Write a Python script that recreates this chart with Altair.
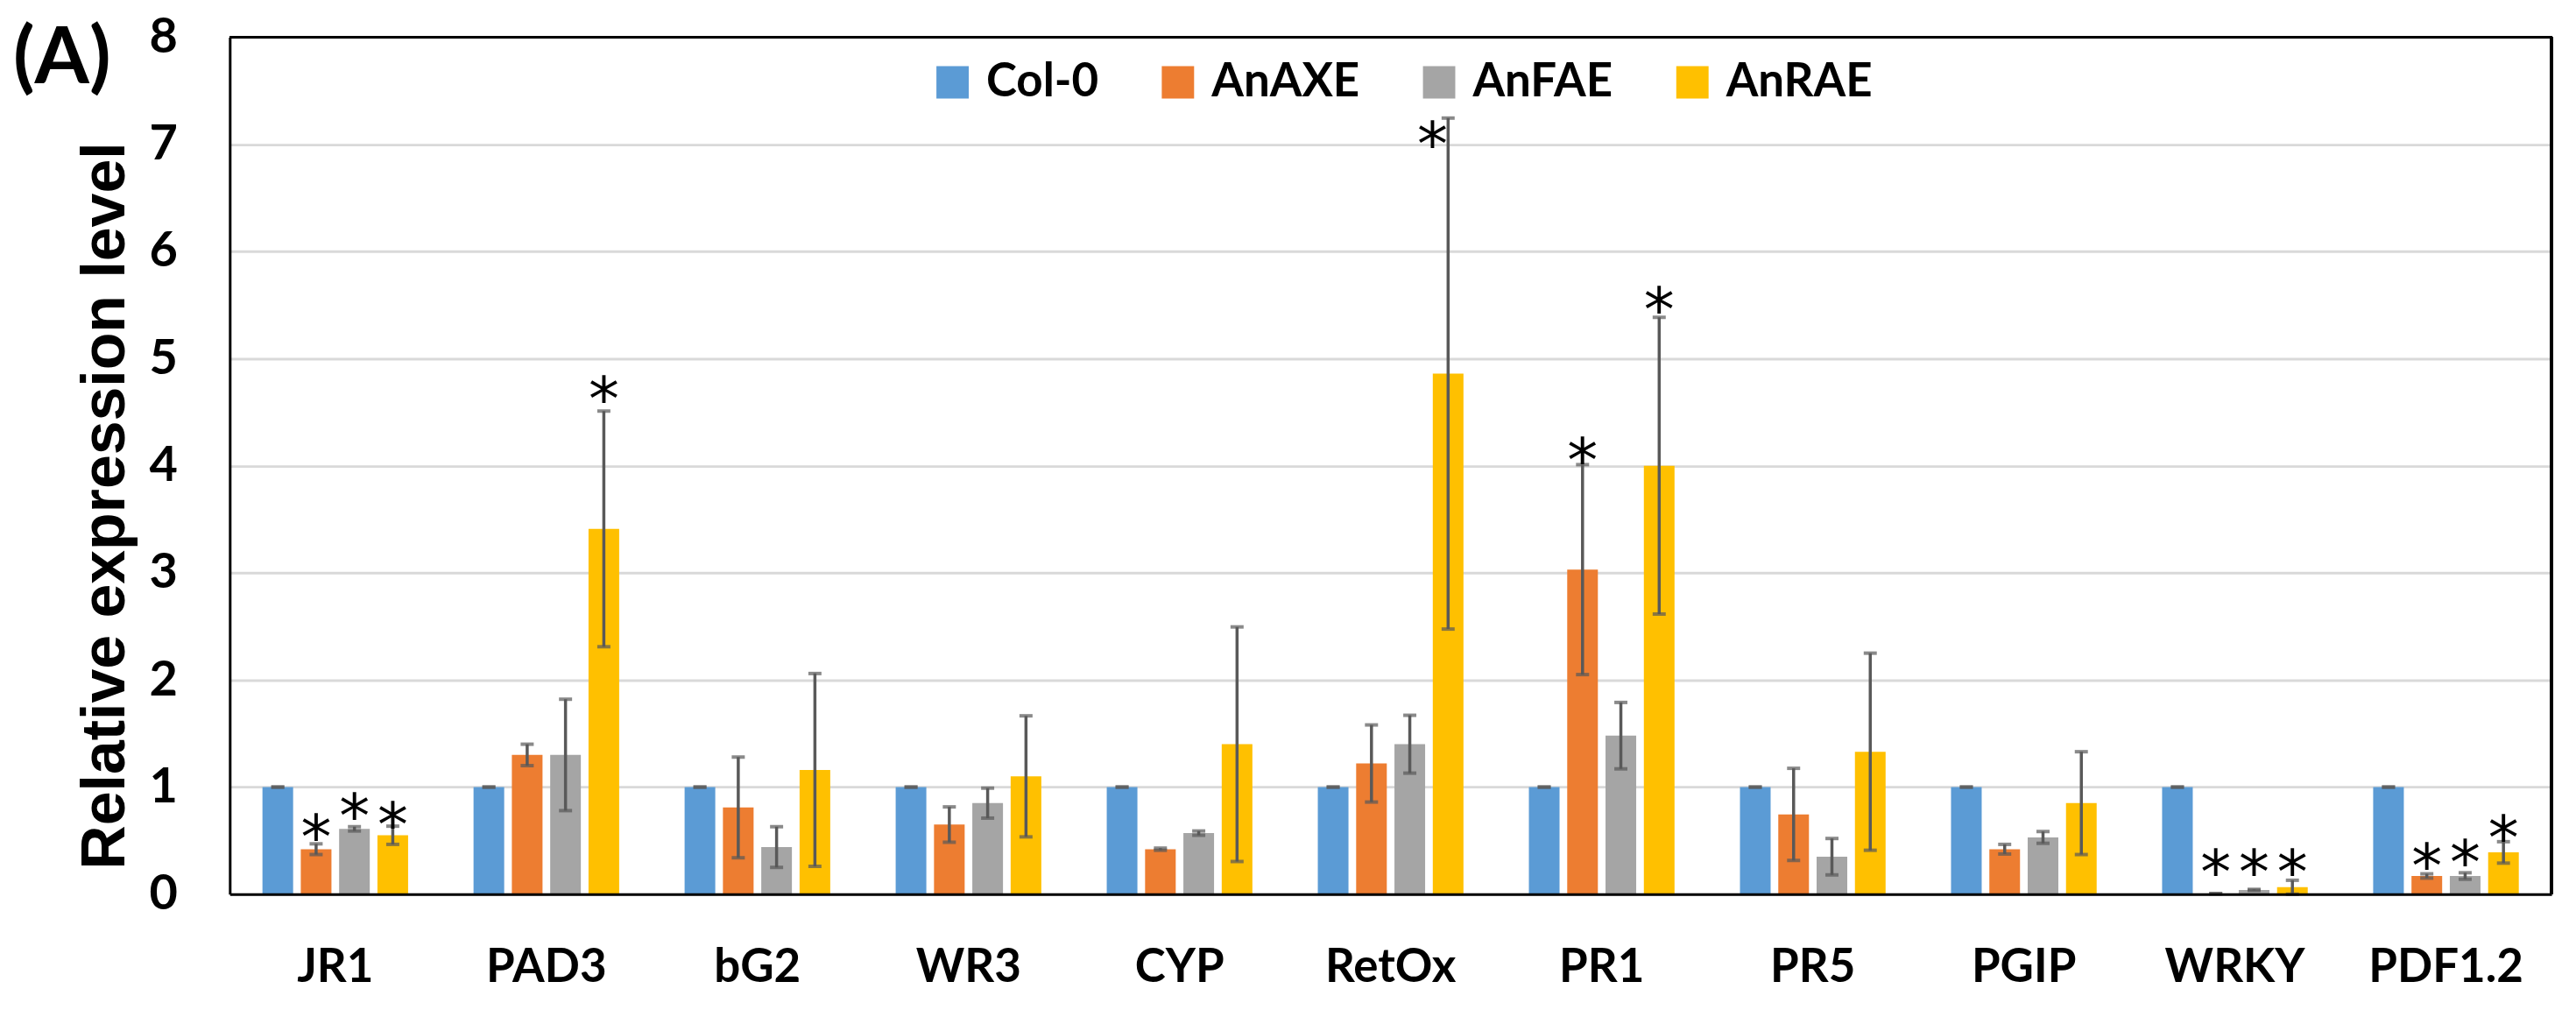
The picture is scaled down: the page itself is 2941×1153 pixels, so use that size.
import altair as alt
import pandas as pd

genes = ["JR1", "PAD3", "bG2", "WR3", "CYP", "RetOx", "PR1", "PR5", "PGIP", "WRKY", "PDF1.2"]
series = ["Col-0", "AnAXE", "AnFAE", "AnRAE"]
colors = ["#5B9BD5", "#ED7D31", "#A5A5A5", "#FFC000"]

col0 = [1.0, 1.0, 1.0, 1.0, 1.0, 1.0, 1.0, 1.0, 1.0, 1.0, 1.0]
col0_err = [0.0, 0.0, 0.0, 0.0, 0.0, 0.0, 0.0, 0.0, 0.0, 0.0, 0.0]
anaxe = [0.42, 1.30, 0.81, 0.65, 0.42, 1.22, 3.03, 0.745, 0.42, 0.005, 0.17]
anaxe_err = [0.05, 0.10, 0.47, 0.165, 0.01, 0.36, 0.98, 0.43, 0.045, 0.0, 0.02]
anfae = [0.61, 1.30, 0.44, 0.85, 0.57, 1.40, 1.48, 0.35, 0.53, 0.04, 0.17]
anfae_err = [0.02, 0.52, 0.19, 0.14, 0.02, 0.27, 0.31, 0.17, 0.055, 0.005, 0.03]
anrae = [0.55, 3.41, 1.16, 1.10, 1.40, 4.86, 4.00, 1.33, 0.85, 0.065, 0.39]
anrae_err = [0.085, 1.10, 0.90, 0.565, 1.095, 2.385, 1.385, 0.92, 0.48, 0.065, 0.10]

# significance stars: gene, series, level (star centre, in axis units)
star_gene = ["JR1", "JR1", "JR1", "PAD3", "PR1", "PR1", "WRKY", "WRKY", "WRKY", "PDF1.2", "PDF1.2", "PDF1.2"]
star_series = ["AnAXE", "AnFAE", "AnRAE", "AnRAE", "AnAXE", "AnRAE", "AnAXE", "AnFAE", "AnRAE", "AnAXE", "AnFAE", "AnRAE"]
star_level = [0.64, 0.84, 0.755, 4.73, 4.16, 5.57, 0.32, 0.32, 0.32, 0.37, 0.405, 0.635]
# star drawn beside the top of an error bar
side_star_gene = ["RetOx"]
side_star_series = ["AnRAE"]
side_star_level = [7.11]

panel_label = "(A)"

rows = []
for s, vals, errs in zip(series, [col0, anaxe, anfae, anrae], [col0_err, anaxe_err, anfae_err, anrae_err]):
    for g, v, e in zip(genes, vals, errs):
        rows.append({"gene": g, "series": s, "value": v, "lo": max(v - e, 0.0), "hi": v + e})
df = pd.DataFrame(rows)
stars = pd.DataFrame({"gene": star_gene, "series": star_series, "level": star_level})
side_stars = pd.DataFrame({"gene": side_star_gene, "series": side_star_series, "level": side_star_level})

xscale = alt.Scale(domain=genes, paddingInner=0.31, paddingOuter=0.155)
yscale = alt.Scale(domain=[0, 8], nice=False)

x = alt.X(
    "gene:N", sort=genes, scale=xscale,
    axis=alt.Axis(title=None, labelAngle=0, labelFont="Lato", labelFontWeight="bold",
                  labelFontSize=53, labelColor="black", labelPadding=58, labelLimit=500,
                  ticks=False, domain=True, domainColor="black", domainWidth=3, grid=False, zindex=2),
)
xo = alt.XOffset("series:N", sort=series, scale=alt.Scale(domain=series, paddingInner=0.2, paddingOuter=0))

bars = alt.Chart(df).mark_bar().encode(
    x=x, xOffset=xo,
    y=alt.Y("value:Q", scale=yscale, axis=alt.Axis(
        values=[0, 1, 2, 3, 4, 5, 6, 7, 8], format="d", title="Relative expression level",
        labelFont="Lato", labelFontWeight="bold", labelFontSize=56, labelColor="black",
        labelPadding=60, ticks=False, domain=True, domainColor="black", domainWidth=3,
        grid=True, gridColor="#D9D9D9", gridWidth=3, zindex=0,
        titleFont="Liberation Sans", titleFontWeight="bold", titleFontSize=70, titleColor="black",
        titleAngle=270, titleX=-121, titleY=536, titleBaseline="alphabetic", titleAlign="center")),
    color=alt.Color("series:N", sort=series, scale=alt.Scale(domain=series, range=colors),
                    legend=alt.Legend(title=None, orient="none", legendX=801, legendY=25,
                                      direction="horizontal", symbolType="square", symbolSize=1369,
                                      symbolStrokeWidth=0, labelFont="Lato", labelFontWeight="bold",
                                      labelFontSize=53, labelColor="black", labelOffset=12,
                                      columnPadding=64, labelLimit=500, padding=0)),
)

rules = alt.Chart(df).mark_rule(color="#595959", strokeWidth=3.5).encode(
    x=x, xOffset=xo, y=alt.Y("lo:Q", scale=yscale), y2="hi:Q")
cap_lo = alt.Chart(df).mark_tick(color="#595959", thickness=4, size=15).encode(
    x=x, xOffset=xo, y=alt.Y("lo:Q", scale=yscale))
cap_hi = alt.Chart(df).mark_tick(color="#595959", thickness=4, size=15).encode(
    x=x, xOffset=xo, y=alt.Y("hi:Q", scale=yscale))

star_txt = alt.Chart(stars).mark_text(text="*", font="DejaVu Sans", fontSize=70,
                                      baseline="middle", dy=17, color="black").encode(
    x=x, xOffset=xo, y=alt.Y("level:Q", scale=yscale))
side_txt = alt.Chart(side_stars).mark_text(text="*", font="DejaVu Sans", fontSize=70,
                                           baseline="middle", dy=17, dx=-18, color="black").encode(
    x=x, xOffset=xo, y=alt.Y("level:Q", scale=yscale))

# top and right edges of the plot frame
frame_top = alt.Chart(df).mark_rule(color="black", strokeWidth=3).encode(y=alt.value(0))
frame_right = alt.Chart(df).mark_rule(color="black", strokeWidth=3).encode(x=alt.value("width"))

# panel letter
letter = alt.Chart(pd.DataFrame({"t": [panel_label]})).mark_text(
    font="Lato", fontWeight="bold", fontSize=90, align="left", baseline="middle", color="black"
).encode(text="t:N", x=alt.value(-248), y=alt.value(26))

chart = alt.layer(bars, rules, cap_lo, cap_hi, star_txt, side_txt, frame_top, frame_right, letter).properties(
    width=2658, height=981,
    autosize="none",
    padding={"left": 255, "top": 33, "right": 20, "bottom": 125},
).configure(background="white").configure_view(stroke=None)

chart.save("out.html", embed_options={"renderer": "svg", "actions": False})
